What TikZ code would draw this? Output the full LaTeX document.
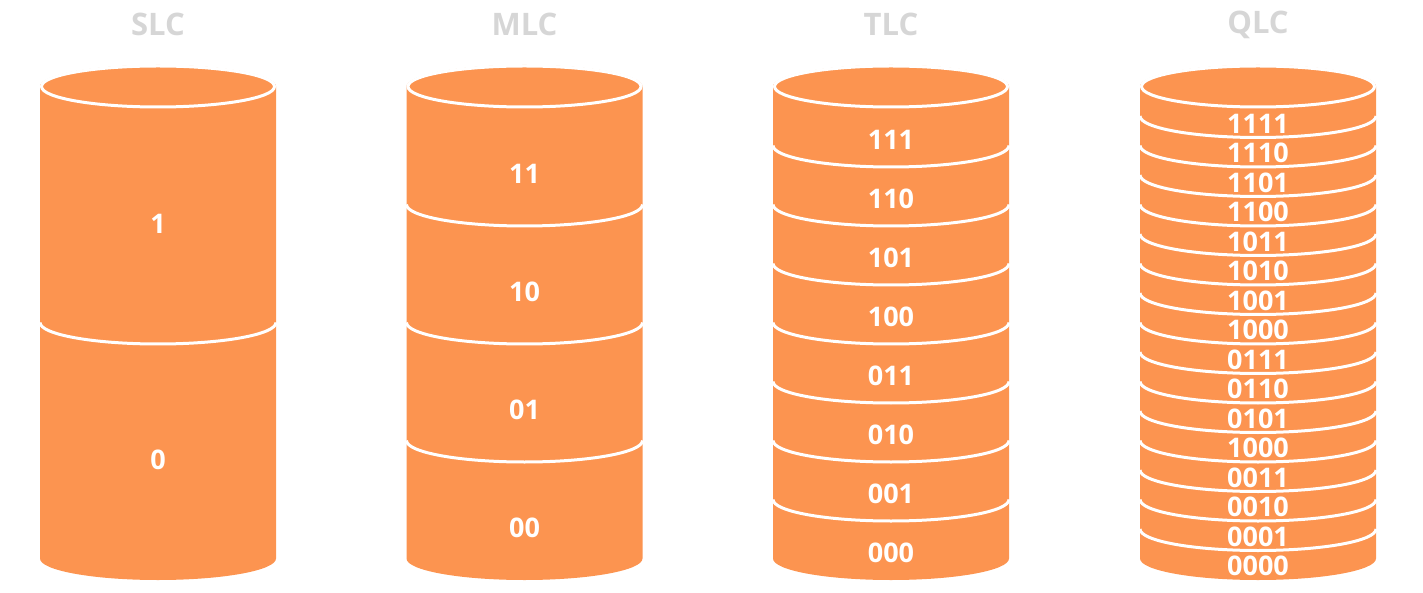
\documentclass[tikz,border=0pt]{standalone}
\usepackage{fontspec}
\setmainfont{Open Sans}
\definecolor{cylorange}{RGB}{252,148,80}
\definecolor{titlegray}{RGB}{214,214,214}
\tikzset{
  cylbody/.style={fill=cylorange, draw=none},
  rim/.style={draw=white, line width=3pt},
  bitlabel/.style={text=white, font=\bfseries\fontsize{27}{27}\selectfont, inner sep=0pt, anchor=center},
  cyltitle/.style={text=titlegray, font=\bfseries\fontsize{31}{31}\selectfont, inner sep=0pt, anchor=center}
}
% #1 centre x, #2 number of segments, #3 name, #4 title, #5 labels (top to bottom), #6 label shift down
\newcommand\drawcyl[6]{%
  \begin{scope}[shift={(#1pt,0pt)}]
    \pgfmathsetmacro\segh{472/#2}
    \fill[cylbody] (-118pt,505.5pt) -- (-118pt,33.5pt)
      arc[start angle=180,end angle=360,x radius=118pt,y radius=21.5pt]
      -- (118pt,505.5pt)
      arc[start angle=0,end angle=180,x radius=118pt,y radius=21.5pt] -- cycle;
    \ifnum#2>1
      \pgfmathtruncatemacro\last{#2-1}
      \foreach \k in {1,...,\last}{
        \pgfmathsetmacro\yk{505.5-\k*\segh}
        \draw[rim] (-118pt,\yk pt) arc[start angle=180,end angle=360,x radius=118pt,y radius=21.5pt];
      }
    \fi
    \draw[rim] (0pt,505.5pt) ellipse[x radius=116.5pt, y radius=20.5pt];
    \foreach \lab [count=\i from 0] in {#5}{
      \pgfmathsetmacro\yl{505.5-\i*\segh-\segh/2-21.5-#6}
      \node[bitlabel] (#3-\i) at (0pt,\yl pt) {\lab};
    }
    \node[cyltitle] (#3-title) at (0pt,567.5pt) {#4};
  \end{scope}
}
\begin{document}
\begin{tikzpicture}[x=1pt,y=1pt]
  \useasboundingbox (0,0) rectangle (1423,592);
  \drawcyl{158}{2}{slc}{SLC}{1,0}{-2}
  \drawcyl{524.5}{4}{mlc}{MLC}{11,10,01,00}{7}
  \drawcyl{891}{8}{tlc}{TLC}{111,110,101,100,011,010,001,000}{2}
  \drawcyl{1258}{16}{qlc}{QLC}{1111,1110,1101,1100,1011,1010,1001,1000,0111,0110,0101,1000,0011,0010,0001,0000}{1}
\end{tikzpicture}
\end{document}
